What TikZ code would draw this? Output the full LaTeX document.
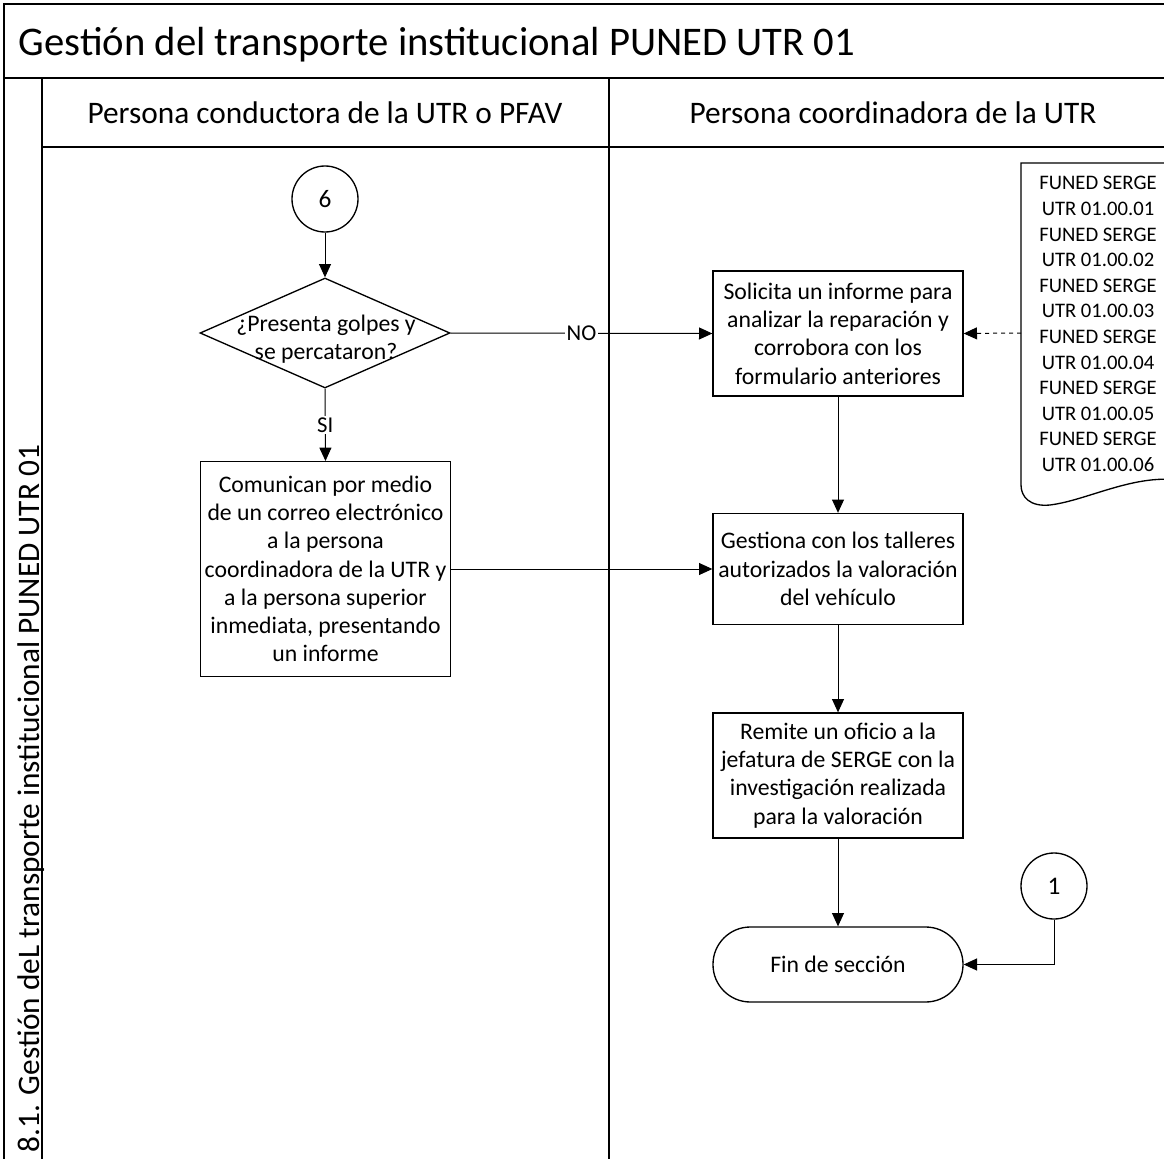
\documentclass[tikz,border=0pt]{standalone}
\usepackage{fontspec}
\setmainfont{Carlito}
\usetikzlibrary{shapes.geometric,arrows.meta}
\begin{document}
\begin{tikzpicture}[x=0.75pt,y=-0.75pt,
  frameline/.style={line width=1pt},
  boxtext/.style={font=\fontsize{17.8}{21.2}\selectfont, align=center},
  proc/.style={draw, line width=1pt, boxtext, inner sep=0pt, minimum width=187.5pt},
  conn/.style={line width=0.75pt, -{Triangle[length=10pt,width=9pt]}},
  lbl/.style={fill=white, inner sep=1pt, font=\fontsize{17}{20}\selectfont},
  onpage/.style={draw, circle, line width=1pt, minimum size=49.5pt, inner sep=0pt, font=\fontsize{19}{22}\selectfont}
]
\useasboundingbox (0,0) rectangle (1164,1159);
% frame
\draw[frameline] (4,1170) -- (4,4) -- (1185,4);
\draw[frameline] (4,78) -- (1185,78);
\draw[frameline] (42,78) -- (42,1170);
\draw[frameline] (42,147) -- (1185,147);
\draw[line width=1.3pt] (609,78) -- (609,1170);
\node[anchor=west, font=\fontsize{30.5}{36}\selectfont] (title) at (14,45) {Gestión del transporte institucional PUNED UTR 01};
\node[font=\fontsize{23.5}{28}\selectfont] (lane1) at (325,113) {Persona conductora de la UTR o PFAV};
\node[font=\fontsize{23.5}{28}\selectfont] (lane2) at (893,113) {Persona coordinadora de la UTR};
\node[rotate=90, anchor=base west, font=\fontsize{23.5}{28}\selectfont] (pool) at (39,1157) {8.1. Gestión deL transporte institucional PUNED UTR 01};

% nodes
\node[onpage] (c6) at (325,199) {6};
\node[draw, diamond, line width=1pt, minimum width=187.5pt, minimum height=82.5pt, inner sep=0pt] (d) at (325,333) {};
\node[boxtext] (dtext) at (326,339) {¿Presenta golpes y\\se percataron?};
\node[proc, minimum height=161pt] (b1) at (325.5,569) {Comunican por medio\\de un correo electrónico\\a la persona\\coordinadora de la UTR y\\a la persona superior\\inmediata, presentando\\un informe};
\node[proc, minimum height=93.75pt] (b2) at (838,333.5) {Solicita un informe para\\analizar la reparación y\\corrobora con los\\formulario  anteriores};
\node[proc, minimum height=83.25pt] (b3) at (838,569) {Gestiona con los talleres\\autorizados la valoración\\del vehículo};
\node[proc, minimum height=93.75pt] (b4) at (838,775.5) {Remite un oficio a la\\jefatura de SERGE con la\\investigación realizada\\para la valoración};
\node[proc, minimum height=56.25pt, rounded corners=28pt] (term) at (838,964.5) {Fin de sección};
\node[onpage] (c1) at (1054,886) {1};

% document shape
\draw[line width=1pt, fill=white] (1021,163) -- (1190,163) -- (1190,482)
  .. controls (1140,470) and (1090,500) .. (1050,505)
  .. controls (1030,507) and (1021,497) .. (1021,485) -- cycle;
\coordinate (docL) at (1021,333);
\node[align=center, font=\fontsize{15.5}{19.2}\selectfont] (doc) at (1098,324) {FUNED SERGE\\UTR 01.00.01\\FUNED SERGE\\UTR 01.00.02\\FUNED SERGE\\UTR 01.00.03\\FUNED SERGE\\UTR 01.00.04\\FUNED SERGE\\UTR 01.00.05\\FUNED SERGE\\UTR 01.00.06};

% connectors
\draw[conn] (c6.south) -- (d.north);
\draw[conn] (d.south) -- node[lbl, pos=0.5] (si) {SI} (b1.north);
\draw[conn] (d.east) -- node[lbl, pos=0.5] (no) {NO} (b2.west);
\draw[conn, dashed] (docL) -- (b2.east);
\draw[conn] (b2.south) -- (b3.north);
\draw[conn] (b1.east) -- (b3.west);
\draw[conn] (b3.south) -- (b4.north);
\draw[conn] (b4.south) -- (term.north);
\draw[conn] (c1.south) |- (term.east);
\end{tikzpicture}
\end{document}
